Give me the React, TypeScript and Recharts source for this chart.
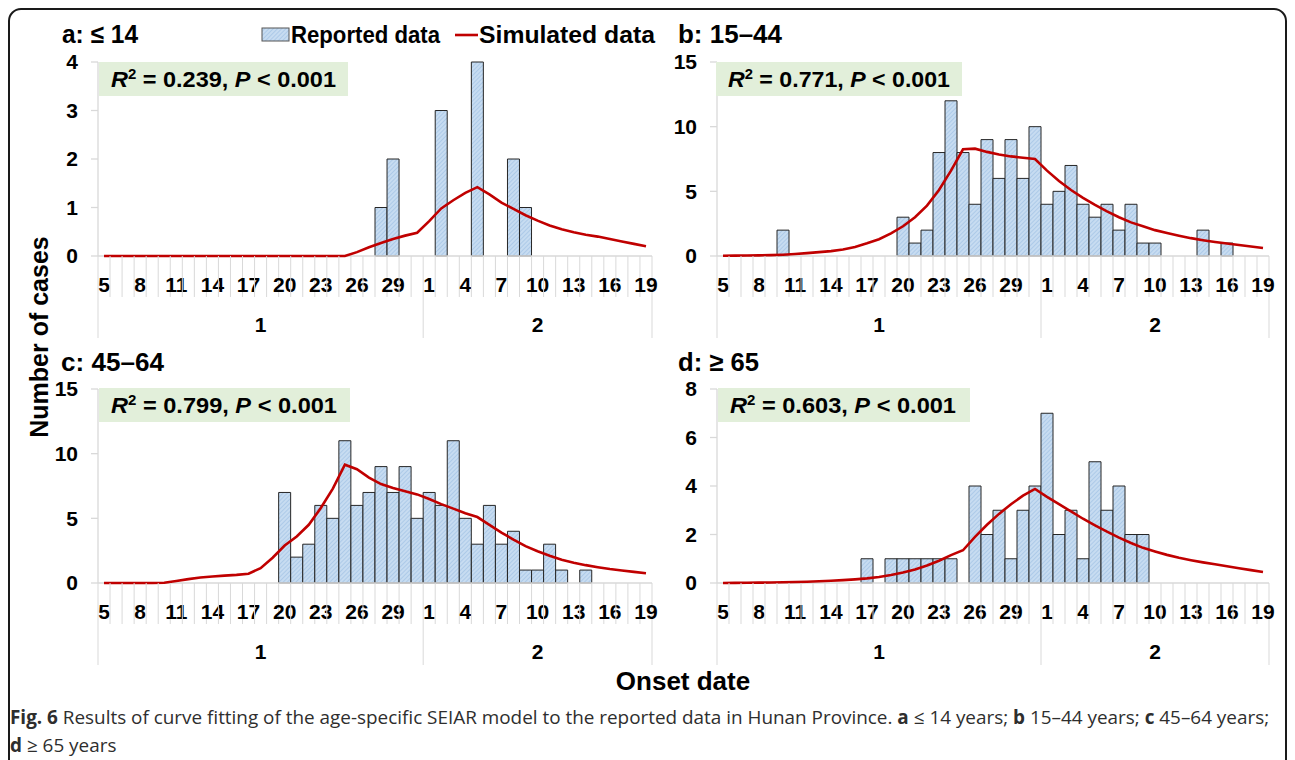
import React from 'react';
import { ComposedChart, Bar, Line, XAxis, YAxis } from 'recharts';

const FONT = '"Liberation Sans", Arial, Helvetica, sans-serif';
const CAPTION_FONT = '"Open Sans", "Noto Sans", "Liberation Sans", sans-serif';

// Categories: onset dates, 5 Jan .. 19 Feb
const DAYS = [5, 6, 7, 8, 9, 10, 11, 12, 13, 14, 15, 16, 17, 18, 19, 20, 21, 22, 23, 24, 25, 26, 27, 28, 29, 30, 31,
  1, 2, 3, 4, 5, 6, 7, 8, 9, 10, 11, 12, 13, 14, 15, 16, 17, 18, 19];
const MONTHS = [1, 1, 1, 1, 1, 1, 1, 1, 1, 1, 1, 1, 1, 1, 1, 1, 1, 1, 1, 1, 1, 1, 1, 1, 1, 1, 1,
  2, 2, 2, 2, 2, 2, 2, 2, 2, 2, 2, 2, 2, 2, 2, 2, 2, 2, 2];

// a: <= 14
const reportedA = [0, 0, 0, 0, 0, 0, 0, 0, 0, 0, 0, 0, 0, 0, 0, 0, 0, 0, 0, 0, 0, 0, 0, 1, 2, 0, 0,
  0, 3, 0, 0, 4, 0, 0, 2, 1, 0, 0, 0, 0, 0, 0, 0, 0, 0, 0];
const simulatedA = [0, 0, 0, 0, 0, 0, 0, 0, 0, 0, 0, 0, 0, 0, 0, 0, 0, 0, 0, 0, 0, 0.08, 0.18, 0.27, 0.35, 0.42, 0.48,
  0.72, 0.98, 1.15, 1.3, 1.42, 1.27, 1.1, 0.97, 0.84, 0.73, 0.63, 0.55, 0.49, 0.44, 0.4, 0.35, 0.3, 0.25, 0.2];

// b: 15-44
const reportedB = [0, 0, 0, 0, 0, 2, 0, 0, 0, 0, 0, 0, 0, 0, 0, 3, 1, 2, 8, 12, 8, 4, 9, 6, 9, 6, 10,
  4, 5, 7, 4, 3, 4, 2, 4, 1, 1, 0, 0, 0, 2, 0, 1, 0, 0, 0];
const simulatedB = [0.02, 0.03, 0.04, 0.05, 0.07, 0.1, 0.15, 0.22, 0.3, 0.38, 0.5, 0.7, 0.98, 1.3, 1.75, 2.3, 3.0, 3.9,
  5.1, 6.6, 8.25, 8.3, 8.05, 7.85, 7.7, 7.6, 7.5, 6.6, 5.8, 5.1, 4.5, 3.95, 3.45, 3.0, 2.6, 2.3, 2.0, 1.78, 1.57,
  1.38, 1.22, 1.08, 0.96, 0.85, 0.74, 0.62];

// c: 45-64
const reportedC = [0, 0, 0, 0, 0, 0, 0, 0, 0, 0, 0, 0, 0, 0, 0, 7, 2, 3, 6, 5, 11, 6, 7, 9, 7, 9, 5,
  7, 6, 11, 5, 3, 6, 3, 4, 1, 1, 3, 1, 0, 1, 0, 0, 0, 0, 0];
const simulatedC = [0, 0, 0, 0, 0, 0.02, 0.15, 0.3, 0.42, 0.5, 0.57, 0.63, 0.72, 1.15, 1.95, 2.9, 3.6, 4.5, 5.8, 7.3,
  9.15, 8.8, 8.15, 7.65, 7.35, 7.1, 6.85, 6.5, 6.1, 5.75, 5.4, 5.1, 4.5, 3.9, 3.35, 2.85, 2.45, 2.1, 1.8, 1.57,
  1.38, 1.22, 1.08, 0.97, 0.86, 0.76];

// d: >= 65
const reportedD = [0, 0, 0, 0, 0, 0, 0, 0, 0, 0, 0, 0, 1, 0, 1, 1, 1, 1, 1, 1, 0, 4, 2, 3, 1, 3, 4,
  7, 2, 3, 1, 5, 3, 4, 2, 2, 0, 0, 0, 0, 0, 0, 0, 0, 0, 0];
const simulatedD = [0, 0.005, 0.01, 0.015, 0.02, 0.03, 0.04, 0.05, 0.07, 0.09, 0.12, 0.15, 0.19, 0.25, 0.33, 0.43,
  0.56, 0.72, 0.92, 1.15, 1.35, 1.9, 2.4, 2.85, 3.25, 3.6, 3.88, 3.55, 3.25, 2.95, 2.65, 2.38, 2.12, 1.87, 1.65,
  1.45, 1.3, 1.16, 1.04, 0.94, 0.85, 0.77, 0.69, 0.61, 0.53, 0.45];

const ticksA = [0, 1, 2, 3, 4];
const ticks15 = [0, 5, 10, 15];
const ticksD = [0, 2, 4, 6, 8];

const titles = ['a: \u2264 14', 'b: 15\u201344', 'c: 45\u201364', 'd: \u2265 65'];
const r2Values = ['0.239', '0.771', '0.799', '0.603'];
const pText = '< 0.001';
const legendLabels = ['Reported data', 'Simulated data'];

const GRID = '#d9d9d9';

function makeTick(band: number) {
  return (props: any) => {
    const { x, y, payload } = props;
    const i: number = payload && payload.index != null ? payload.index : props.index;
    const half = band / 2;
    const last = DAYS.length - 1;
    const els: any[] = [];
    els.push(<line key="l" x1={x - half} x2={x - half} y1={y} y2={y + 41} stroke={GRID} strokeWidth={1} />);
    if (i === last) {
      els.push(<line key="r" x1={x + half} x2={x + half} y1={y} y2={y + 82} stroke={GRID} strokeWidth={1} />);
    }
    if (i % 3 === 0) {
      els.push(
        <text key="t" x={x} y={y + 36} textAnchor="middle" fontFamily={FONT} fontSize={21} fontWeight={700} fill="#000">
          {DAYS[i]}
        </text>
      );
    }
    const first = i === 0 || MONTHS[i] !== MONTHS[i - 1];
    if (first) {
      els.push(<line key="m" x1={x - half} x2={x - half} y1={y + 41} y2={y + 82} stroke={GRID} strokeWidth={1} />);
      let l = i;
      while (l + 1 < DAYS.length && MONTHS[l + 1] === MONTHS[i]) l++;
      const cx = x + ((l - i) / 2) * band;
      els.push(
        <text key="ml" x={cx} y={y + 76} textAnchor="middle" fontFamily={FONT} fontSize={21} fontWeight={700} fill="#000">
          {String(MONTHS[i])}
        </text>
      );
    }
    return <g>{els}</g>;
  };
}

type PanelProps = {
  left: number;
  top: number;
  width: number;
  height: number;
  margin: { top: number; right: number; bottom: number; left: number };
  reported: number[];
  simulated: number[];
  yMax: number;
  yTicks: number[];
};

function Panel({ left, top, width, height, margin, reported, simulated, yMax, yTicks }: PanelProps) {
  const data = DAYS.map((d, i) => ({
    key: `${MONTHS[i]}-${d}`,
    reported: reported[i],
    simulated: simulated[i],
  }));
  const plotWidth = width - margin.left - margin.right - 40;
  const band = plotWidth / DAYS.length;
  return (
    <div style={{ position: 'absolute', left, top, width, height }}>
      <ComposedChart width={width} height={height} data={data} margin={margin} barCategoryGap={0} barGap={0}>
        <XAxis
          dataKey="key"
          interval={0}
          height={82}
          tickSize={0}
          tickMargin={0}
          tickLine={false}
          axisLine={{ stroke: GRID, strokeWidth: 1.3 }}
          tick={makeTick(band)}
        />
        <YAxis
          width={40}
          domain={[0, yMax]}
          ticks={yTicks}
          interval={0}
          tickSize={7}
          tickMargin={13}
          axisLine={{ stroke: GRID, strokeWidth: 1.3 }}
          tickLine={{ stroke: GRID, strokeWidth: 1.3 }}
          tick={{ fill: '#000', fontSize: 21, fontWeight: 700, fontFamily: FONT }}
        />
        <Bar dataKey="reported" fill="url(#hatchBlue)" stroke="#262626" strokeWidth={1} isAnimationActive={false} />
        <Line
          dataKey="simulated"
          type="linear"
          stroke="#c00000"
          strokeWidth={2.6}
          dot={false}
          activeDot={false}
          isAnimationActive={false}
          {...({ zIndex: 650 } as any)}
        />
      </ComposedChart>
    </div>
  );
}

function R2Box({ x, y, w, value, tl }: { x: number; y: number; w: number; value: string; tl: number }) {
  return (
    <g>
      <rect x={x} y={y} width={w} height={34} fill="#e2efda" />
      <text x={x + 12} y={y + 25} fontFamily={FONT} fontSize={22} fontWeight={700} fill="#000" textLength={tl} lengthAdjust="spacingAndGlyphs">
        <tspan fontStyle="italic">R</tspan>
        <tspan dy={-8} fontSize={14}>2</tspan>
        <tspan dy={8}>{` = ${value}, `}</tspan>
        <tspan fontStyle="italic">P</tspan>
        <tspan>{` ${pText}`}</tspan>
      </text>
    </g>
  );
}

export default function App() {
  const mTop = { top: 62, right: 8, bottom: 7, left: 58 };
  const mTopR = { top: 62, right: 26, bottom: 7, left: 17 };
  const mBot = { top: 59, right: 8, bottom: 10, left: 58 };
  const mBotR = { top: 59, right: 26, bottom: 10, left: 17 };
  const T = { fontFamily: FONT, fontSize: 26, fontWeight: 700, fill: '#000' } as any;
  const C = { fontFamily: CAPTION_FONT, fontSize: 18.9, fill: '#2e2e2e' } as any;
  return (
    <div style={{ position: 'absolute', left: 0, top: 0, width: 1295, height: 760, background: '#fff', overflow: 'hidden' }}>
      <Panel left={0} top={0} width={660} height={345} margin={mTop} reported={reportedA} simulated={simulatedA} yMax={4} yTicks={ticksA} />
      <Panel left={660} top={0} width={635} height={345} margin={mTopR} reported={reportedB} simulated={simulatedB} yMax={15} yTicks={ticks15} />
      <Panel left={0} top={330} width={660} height={345} margin={mBot} reported={reportedC} simulated={simulatedC} yMax={15} yTicks={ticks15} />
      <Panel left={660} top={330} width={635} height={345} margin={mBotR} reported={reportedD} simulated={simulatedD} yMax={8} yTicks={ticksD} />
      <svg width={1295} height={760} style={{ position: 'absolute', left: 0, top: 0, pointerEvents: 'none' }}>
        <defs>
          <pattern id="hatchBlue" patternUnits="userSpaceOnUse" width="3" height="3" patternTransform="rotate(45)">
            <rect width="3" height="3" fill="#c7dcf1" />
            <line x1="0" y1="0" x2="0" y2="3" stroke="#93b8df" strokeWidth="1" />
          </pattern>
        </defs>
        <rect x={9} y={9} width={1277} height={800} rx={12} ry={12} fill="none" stroke="#1a1a1a" strokeWidth={2} />
        {/* panel titles */}
        <text x={62} y={43} {...T} textLength={76} lengthAdjust="spacingAndGlyphs">{titles[0]}</text>
        <text x={678} y={43} {...T} textLength={104} lengthAdjust="spacingAndGlyphs">{titles[1]}</text>
        <text x={61} y={371} {...T} textLength={103} lengthAdjust="spacingAndGlyphs">{titles[2]}</text>
        <text x={678} y={371} {...T} textLength={81} lengthAdjust="spacingAndGlyphs">{titles[3]}</text>
        {/* legend */}
        <rect x={262} y={28} width={27} height={13} fill="url(#hatchBlue)" stroke="#555" strokeWidth={1} />
        <text x={291} y={43} fontFamily={FONT} fontSize={23} fontWeight={700} fill="#000" textLength={149} lengthAdjust="spacingAndGlyphs">{legendLabels[0]}</text>
        <line x1={455} x2={478} y1={35} y2={35} stroke="#c00000" strokeWidth={2.6} />
        <text x={479} y={43} fontFamily={FONT} fontSize={23} fontWeight={700} fill="#000" textLength={176} lengthAdjust="spacingAndGlyphs">{legendLabels[1]}</text>
        {/* R2 boxes */}
        <R2Box x={99} y={62} w={249} value={r2Values[0]} tl={225} />
        <R2Box x={716} y={62} w={246} value={r2Values[1]} tl={222} />
        <R2Box x={99} y={388} w={251} value={r2Values[2]} tl={226} />
        <R2Box x={718} y={388} w={252} value={r2Values[3]} tl={226} />
        {/* axis titles */}
        <text x={48} y={337} transform="rotate(-90 48 337)" textAnchor="middle" fontFamily={FONT} fontSize={25} fontWeight={700} fill="#000">Number of cases</text>
        <text x={683} y={690} textAnchor="middle" fontFamily={FONT} fontSize={26} fontWeight={700} fill="#000">Onset date</text>
        {/* caption */}
        <text x={10} y={724} {...C}>
          <tspan fontWeight={700}>Fig. 6</tspan>
          <tspan>{' Results of curve fitting of the age-specific SEIAR model to the reported data in Hunan Province. '}</tspan>
          <tspan fontWeight={700}>a</tspan>
          <tspan>{' \u2264 14 years; '}</tspan>
          <tspan fontWeight={700}>b</tspan>
          <tspan>{' 15\u201344 years; '}</tspan>
          <tspan fontWeight={700}>c</tspan>
          <tspan>{' 45\u201364 years;'}</tspan>
        </text>
        <text x={10} y={752} {...C}>
          <tspan fontWeight={700}>d</tspan>
          <tspan>{' \u2265 65 years'}</tspan>
        </text>
      </svg>
    </div>
  );
}
